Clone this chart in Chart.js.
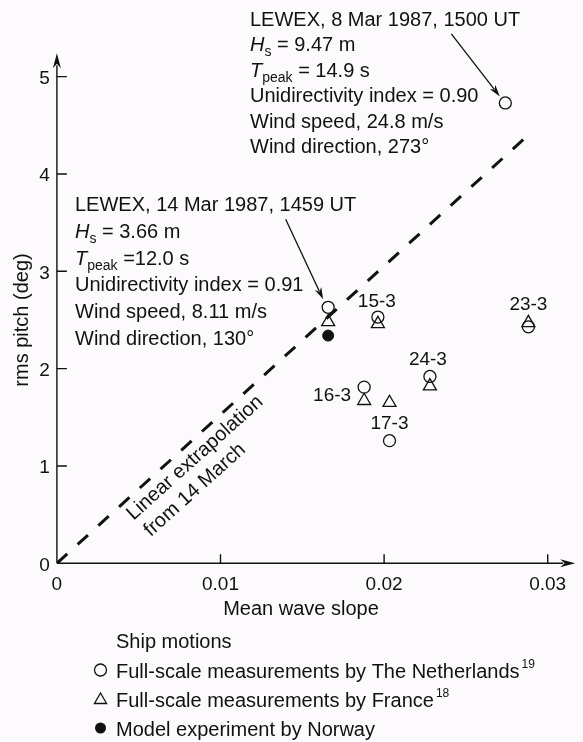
<!DOCTYPE html>
<html><head><meta charset="utf-8">
<script src="https://cdn.jsdelivr.net/npm/chart.js@4.4.1/dist/chart.umd.min.js"></script>
<style>html,body{margin:0;padding:0;background:#fdfafd;}#wrap{width:583px;height:742px;position:relative}</style>
</head><body><div id="wrap"><canvas id="c" width="583" height="742"></canvas></div>
<script>
// ---- data ----
const xTicks = [0, 0.01, 0.02, 0.03];
const xTickLabels = ['0', '0.01', '0.02', '0.03'];
const yTicks = [0, 1, 2, 3, 4, 5];
const yTickLabels = ['0', '1', '2', '3', '4', '5'];
const runLabels = ['14 Mar', '15-3', '23-3', '24-3', '16-3', '17-3', '8 Mar'];
const netherlandsX = [0.01658, 0.01962, 0.02882, 0.02280, 0.01878, 0.02033, 0.02741];
const netherlandsY = [2.63, 2.53, 2.43, 1.92, 1.81, 1.26, 4.73];
const franceX = [0.01658, 0.01962, 0.02882, 0.02280, 0.01878, 0.02033];
const franceY = [2.48, 2.46, 2.47, 1.82, 1.67, 1.65];
const norwayX = [0.01658];
const norwayY = [2.34];
const extrapX = [0, 0.02855];
const extrapY = [0, 4.36];
const legendTitle = 'Ship motions';
const legendLabels = ['Full-scale measurements by The Netherlands', 'Full-scale measurements by France', 'Model experiment by Norway'];
const legendRefs = ['19', '18', ''];

const pts = (xs, ys) => xs.map((x, i) => ({x, y: ys[i]}));
const FONT = '"Liberation Sans", Arial, Helvetica, sans-serif';
const INK = '#111111';
const fnt = (s, it) => (it ? 'italic ' : '') + s + 'px ' + FONT;

function rich(ctx, parts, x, y, size) {
  let cx = x;
  for (const p of parts) {
    const s = typeof p === 'string' ? {t: p} : p;
    let sz = size, dy = 0;
    if (s.sub) { sz = Math.round(size * 0.72); dy = size * 0.27; }
    if (s.sup) { sz = Math.round(size * 0.6); dy = -size * 0.42; }
    ctx.font = fnt(sz, s.it);
    ctx.fillText(s.t, cx, y + dy);
    cx += ctx.measureText(s.t).width;
  }
}
function arrow(ctx, x1, y1, x2, y2, len, hw) {
  const a = Math.atan2(y2 - y1, x2 - x1);
  const bx = x2 - len * Math.cos(a), by = y2 - len * Math.sin(a);
  ctx.beginPath(); ctx.moveTo(x1, y1); ctx.lineTo(bx + 3 * Math.cos(a), by + 3 * Math.sin(a)); ctx.stroke();
  ctx.beginPath(); ctx.moveTo(x2, y2);
  ctx.lineTo(bx + hw * Math.sin(a), by - hw * Math.cos(a));
  ctx.lineTo(bx + 0.3 * len * Math.cos(a), by + 0.3 * len * Math.sin(a));
  ctx.lineTo(bx - hw * Math.sin(a), by + hw * Math.cos(a));
  ctx.closePath(); ctx.fill();
}
function marker(ctx, style, x, y, r, filled) {
  ctx.beginPath();
  if (style === 'circle') ctx.arc(x, y, r, 0, Math.PI * 2);
  else {
    for (let k = 0; k < 3; k++) {
      const a = k * 2 * Math.PI / 3;
      const px = x + Math.sin(a) * r, py = y - Math.cos(a) * r;
      k ? ctx.lineTo(px, py) : ctx.moveTo(px, py);
    }
    ctx.closePath();
  }
  if (filled) ctx.fill(); else ctx.stroke();
}

const deco = {
  id: 'deco',
  beforeDraw(chart) {
    const ctx = chart.ctx;
    ctx.save(); ctx.fillStyle = '#fdfafd'; ctx.fillRect(0, 0, chart.width, chart.height); ctx.restore();
  },
  afterDraw(chart) {
    const ctx = chart.ctx, xs = chart.scales.x, ys = chart.scales.y;
    const X = v => xs.getPixelForValue(v), Y = v => ys.getPixelForValue(v);
    ctx.save();
    ctx.strokeStyle = INK; ctx.fillStyle = INK; ctx.lineWidth = 1.4;
    const x0 = X(0), y0 = Y(0);
    // axes with arrows
    arrow(ctx, x0, y0, x0, chart.chartArea.top, 15, 4);
    arrow(ctx, x0, y0, chart.chartArea.right + 1, y0, 15, 4);
    // inward ticks
    ctx.beginPath();
    yTicks.forEach(v => { if (v) { ctx.moveTo(x0, Y(v)); ctx.lineTo(x0 + 10, Y(v)); } });
    xTicks.forEach(v => { if (v) { ctx.moveTo(X(v), y0); ctx.lineTo(X(v), y0 - 9); } });
    ctx.stroke();

    // axis titles
    ctx.textBaseline = 'middle';
    ctx.textAlign = 'center';
    ctx.font = fnt(20);
    ctx.fillText('Mean wave slope', 301, 609);
    ctx.save(); ctx.translate(22, 320); ctx.rotate(-Math.PI / 2); ctx.fillText('rms pitch (deg)', 0, 0); ctx.restore();

    // run labels
    const off = {'15-3': [-1, -15, 'center'], '23-3': [0, -22, 'center'], '24-3': [-2, -17, 'center'], '16-3': [-13, 9, 'right'], '17-3': [0, -17, 'center']};
    ctx.font = fnt(19);
    runLabels.forEach((lab, i) => {
      const o = off[lab]; if (!o) return;
      ctx.textAlign = o[2];
      ctx.fillText(lab, X(netherlandsX[i]) + o[0], Y(netherlandsY[i]) + o[1]);
    });

    // rotated extrapolation label
    const ang = -42 * Math.PI / 180;
    ctx.font = fnt(20);
    ctx.textAlign = 'center';
    ctx.save(); ctx.translate(195, 458); ctx.rotate(ang); ctx.fillText('Linear extrapolation', 0, 0); ctx.restore();
    ctx.save(); ctx.translate(195, 490); ctx.rotate(ang); ctx.fillText('from 14 March', 0, 0); ctx.restore();

    // annotation blocks
    ctx.textAlign = 'left'; ctx.textBaseline = 'alphabetic';
    const blockA = [
      ['LEWEX, 8 Mar 1987, 1500 UT'],
      [{t: 'H', it: 1}, {t: 's', sub: 1}, ' = 9.47 m'],
      [{t: 'T', it: 1}, {t: 'peak', sub: 1}, ' = 14.9 s'],
      ['Unidirectivity index = 0.90'],
      ['Wind speed, 24.8 m/s'],
      ['Wind direction, 273°']
    ];
    const blockB = [
      ['LEWEX, 14 Mar 1987, 1459 UT'],
      [{t: 'H', it: 1}, {t: 's', sub: 1}, ' = 3.66 m'],
      [{t: 'T', it: 1}, {t: 'peak', sub: 1}, ' =12.0 s'],
      ['Unidirectivity index = 0.91'],
      ['Wind speed, 8.11 m/s'],
      ['Wind direction, 130°']
    ];
    blockA.forEach((ln, i) => rich(ctx, ln, 250, 25.5 + i * 25.5, 20));
    blockB.forEach((ln, i) => rich(ctx, ln, 75, 211 + i * 26.8, 20));

    // annotation arrows
    ctx.lineWidth = 1.3;
    const p8x = X(netherlandsX[6]), p8y = Y(netherlandsY[6]);
    arrow(ctx, p8x - 54, p8y - 69, p8x - 5.5, p8y - 6.5, 12, 3.5);
    const p14x = X(netherlandsX[0]), p14y = Y(netherlandsY[0]);
    arrow(ctx, p14x - 42.5, p14y - 88, p14x - 5, p14y - 8, 12, 3.5);

    // legend
    ctx.font = fnt(20); ctx.textBaseline = 'middle';
    ctx.fillText(legendTitle, 116, 642);
    const ly = [671, 700, 729];
    const styles = [['circle', 6, false], ['triangle', 7, false], ['circle', 5.5, true]];
    legendLabels.forEach((lab, i) => {
      ctx.lineWidth = 1.3;
      marker(ctx, styles[i][0], 100.5, ly[i] - 1 + (styles[i][0] === 'triangle' ? 1 : 0), styles[i][1], styles[i][2]);
      ctx.font = fnt(20);
      ctx.fillText(lab, 116, ly[i] + 1);
      if (legendRefs[i]) {
        const w = ctx.measureText(lab).width;
        ctx.font = fnt(12);
        ctx.fillText(legendRefs[i], 116 + w + 2, ly[i] - 6);
      }
    });
    ctx.restore();
  }
};

new Chart(document.getElementById('c'), {
  type: 'scatter',
  data: {
    datasets: [
      {label: 'Linear extrapolation from 14 March', type: 'line', data: pts(extrapX, extrapY), borderColor: INK, borderWidth: 3, borderDash: [14, 14], borderCapStyle: 'butt', pointRadius: 0, fill: false, order: 4},
      {label: legendLabels[0], data: pts(netherlandsX, netherlandsY), pointStyle: 'circle', pointRadius: 6, borderColor: INK, backgroundColor: 'rgba(0,0,0,0)', borderWidth: 1.3},
      {label: legendLabels[1], data: pts(franceX, franceY), pointStyle: 'triangle', pointRadius: 7.5, borderColor: INK, backgroundColor: 'rgba(0,0,0,0)', borderWidth: 1.3},
      {label: legendLabels[2], data: pts(norwayX, norwayY), pointStyle: 'circle', pointRadius: 5.5, borderColor: INK, backgroundColor: INK, borderWidth: 1}
    ]
  },
  options: {
    responsive: false, animation: false, devicePixelRatio: 1,
    layout: {padding: {top: 53.3, right: 8.5, left: 0, bottom: 0}},
    plugins: {legend: {display: false}, tooltip: {enabled: false}},
    scales: {
      x: {
        type: 'linear', min: 0, max: 0.03162,
        grid: {display: false, drawTicks: false}, border: {display: false},
        afterBuildTicks: s => { s.ticks = xTicks.map(v => ({value: v})); },
        afterFit: s => { s.height = 742 - 563.3; },
        ticks: {callback: (v, i) => xTickLabels[i], font: {family: FONT, size: 19}, color: INK, padding: 10, maxRotation: 0, autoSkip: false}
      },
      y: {
        type: 'linear', min: 0, max: 5.24,
        grid: {display: false, drawTicks: false}, border: {display: false},
        afterBuildTicks: s => { s.ticks = yTicks.map(v => ({value: v})); },
        afterFit: s => { s.width = 56.9; },
        ticks: {callback: (v, i) => yTickLabels[i], font: {family: FONT, size: 19}, color: INK, padding: 7, labelOffset: 2, autoSkip: false}
      }
    }
  },
  plugins: [deco]
});
</script></body></html>
